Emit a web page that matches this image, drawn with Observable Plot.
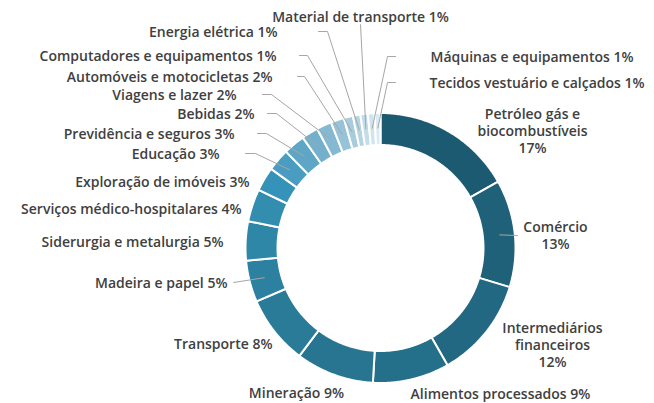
<!DOCTYPE html>
<html><head><meta charset="utf-8">
<script src="https://cdn.jsdelivr.net/npm/d3@7"></script>
<script src="https://cdn.jsdelivr.net/npm/@observablehq/plot@0.6"></script>
<style>html,body{margin:0;padding:0;background:#fff}#chart svg{display:block}</style>
</head><body><div id="chart"></div>
<script>
// ---- data (clockwise from 12 o'clock) ----
const sectors = ["Petróleo gás e biocombustíveis","Comércio","Intermediários financeiros","Alimentos processados","Mineração","Transporte","Madeira e papel","Siderurgia e metalurgia","Serviços médico-hospitalares","Exploração de imóveis","Educação","Previdência e seguros","Bebidas","Viagens e lazer","Automóveis e motocicletas","Computadores e equipamentos","Energia elétrica","Material de transporte","Máquinas e equipamentos","Tecidos vestuário e calçados"];
// estimated underlying shares (%)
const shares = [16.9,12.9,12.1,9.2,9.4,8.3,5.0,4.7,3.9,2.9,2.7,2.6,2.0,1.8,1.6,1.1,0.9,0.9,0.8,0.7];
// rounded percentages printed in labels
const shownPct = [17,13,12,9,9,8,5,5,4,3,3,3,2,2,2,1,1,1,1,1];
// label line-break text
const labelNames = ["Petróleo gás e\nbiocombustíveis","Comércio","Intermediários\nfinanceiros","Alimentos processados","Mineração","Transporte","Madeira e papel","Siderurgia e metalurgia","Serviços médico-hospitalares","Exploração de imóveis","Educação","Previdência e seguros","Bebidas","Viagens e lazer","Automóveis e motocicletas","Computadores e equipamentos","Energia elétrica","Material de transporte","Máquinas e equipamentos","Tecidos vestuário e calçados"];
const pctOnNewLine = [true,true,true,false,false,false,false,false,false,false,false,false,false,false,false,false,false,false,false,false];

// ---- style / layout ----
const colors = ["#1c5a72","#1f6179","#226882","#246f8a","#277591","#2a7b98","#2c81a0","#2f87a8","#328daf","#3592b8","#4a9cc0","#5fa6c6","#74b0cc","#85b9d2","#96c3d8","#a6ccdd","#b4d4e3","#c2dde9","#cfe4ee","#dbebf3"];
const W = 654, H = 403, cx = 380, cy = 247.5;
const rInner = 103, rOuter = 135, rLeader = 120;
// label layout in pixels: anchor, x, y, leader start x, leader elbow x (null = no leader)
const labelLayout = [
  ["middle",532,130,null,null],
  ["middle",555,235,517,517],
  ["middle",552,344,null,null],
  ["middle",500,393,null,null],
  ["middle",296,392,null,null],
  ["end",272,343,null,null],
  ["end",227,282,233,233],
  ["end",223,241,null,null],
  ["end",241,208,null,null],
  ["end",249,181,null,null],
  ["end",219,153,245,255],
  ["end",234,133,257,266],
  ["end",254,113,267,276],
  ["end",236,94,262,271],
  ["end",272,76,297,304],
  ["end",276,55,299,307],
  ["end",277,31,318,327],
  ["middle",360,16,360,360],
  ["start",430,56,395,387],
  ["start",429,82,395,387]
];

const table = sectors.map((s,i)=>({sector:s, share:shares[i], pct:shownPct[i], idx:i}));
const arcs = d3.pie().sort(null).value(d=>d.share).startAngle(0).endAngle(2*Math.PI)(table);

// slice polygons in centred coordinates (x right, y down)
const slicePts = [];
arcs.forEach(a=>{
  const n = Math.max(4, Math.ceil((a.endAngle-a.startAngle)/0.01));
  for (let k=0;k<=n;k++){const t=a.startAngle+(a.endAngle-a.startAngle)*k/n; slicePts.push({sector:a.data.sector,x:rOuter*Math.sin(t),y:-rOuter*Math.cos(t)});}
  for (let k=n;k>=0;k--){const t=a.startAngle+(a.endAngle-a.startAngle)*k/n; slicePts.push({sector:a.data.sector,x:rInner*Math.sin(t),y:-rInner*Math.cos(t)});}
});

const labels = arcs.map((a,i)=>{
  const [anchor,lx,ly] = labelLayout[i];
  return {anchor, x:lx-cx, y:ly-cy, text: labelNames[i]+(pctOnNewLine[i]?"\n":" ")+a.data.pct+"%"};
});

const leaderPts = [];
arcs.forEach((a,i)=>{
  const [anchor,lx,ly,sx,ex] = labelLayout[i];
  if (sx==null) return;
  const m = (a.startAngle+a.endAngle)/2;
  const yStart = (i===17) ? ly+8 : ly; // Material de transporte: leader starts just below its label
  leaderPts.push({k:i,x:sx-cx,y:yStart-cy});
  leaderPts.push({k:i,x:ex-cx,y:yStart-cy});
  leaderPts.push({k:i,x:rLeader*Math.sin(m),y:-rLeader*Math.cos(m)});
});

const textOpts = {x:"x",y:"y",text:"text",fill:"#404040",fontSize:14,fontWeight:600,lineHeight:1.2};
const chart = Plot.plot({
  width: W, height: H, margin: 0,
  style: {fontFamily: "'Open Sans', sans-serif", background: "#fff"},
  x: {domain: [-cx, W-cx], range: [0, W], axis: null},
  y: {domain: [-cy, H-cy], range: [0, H], axis: null},
  color: {domain: sectors, range: colors},
  marks: [
    Plot.line(slicePts, {x:"x", y:"y", z:"sector", fill:"sector", stroke:"white", strokeWidth:2, curve:"linear-closed"}),
    Plot.line(leaderPts, {x:"x", y:"y", z:"k", stroke:"#a6a6a6", strokeWidth:1}),
    Plot.text(labels.filter(d=>d.anchor==="end"), {...textOpts, textAnchor:"end"}),
    Plot.text(labels.filter(d=>d.anchor==="start"), {...textOpts, textAnchor:"start"}),
    Plot.text(labels.filter(d=>d.anchor==="middle"), {...textOpts, textAnchor:"middle"})
  ]
});
document.getElementById("chart").append(chart);
</script>
</body></html>
